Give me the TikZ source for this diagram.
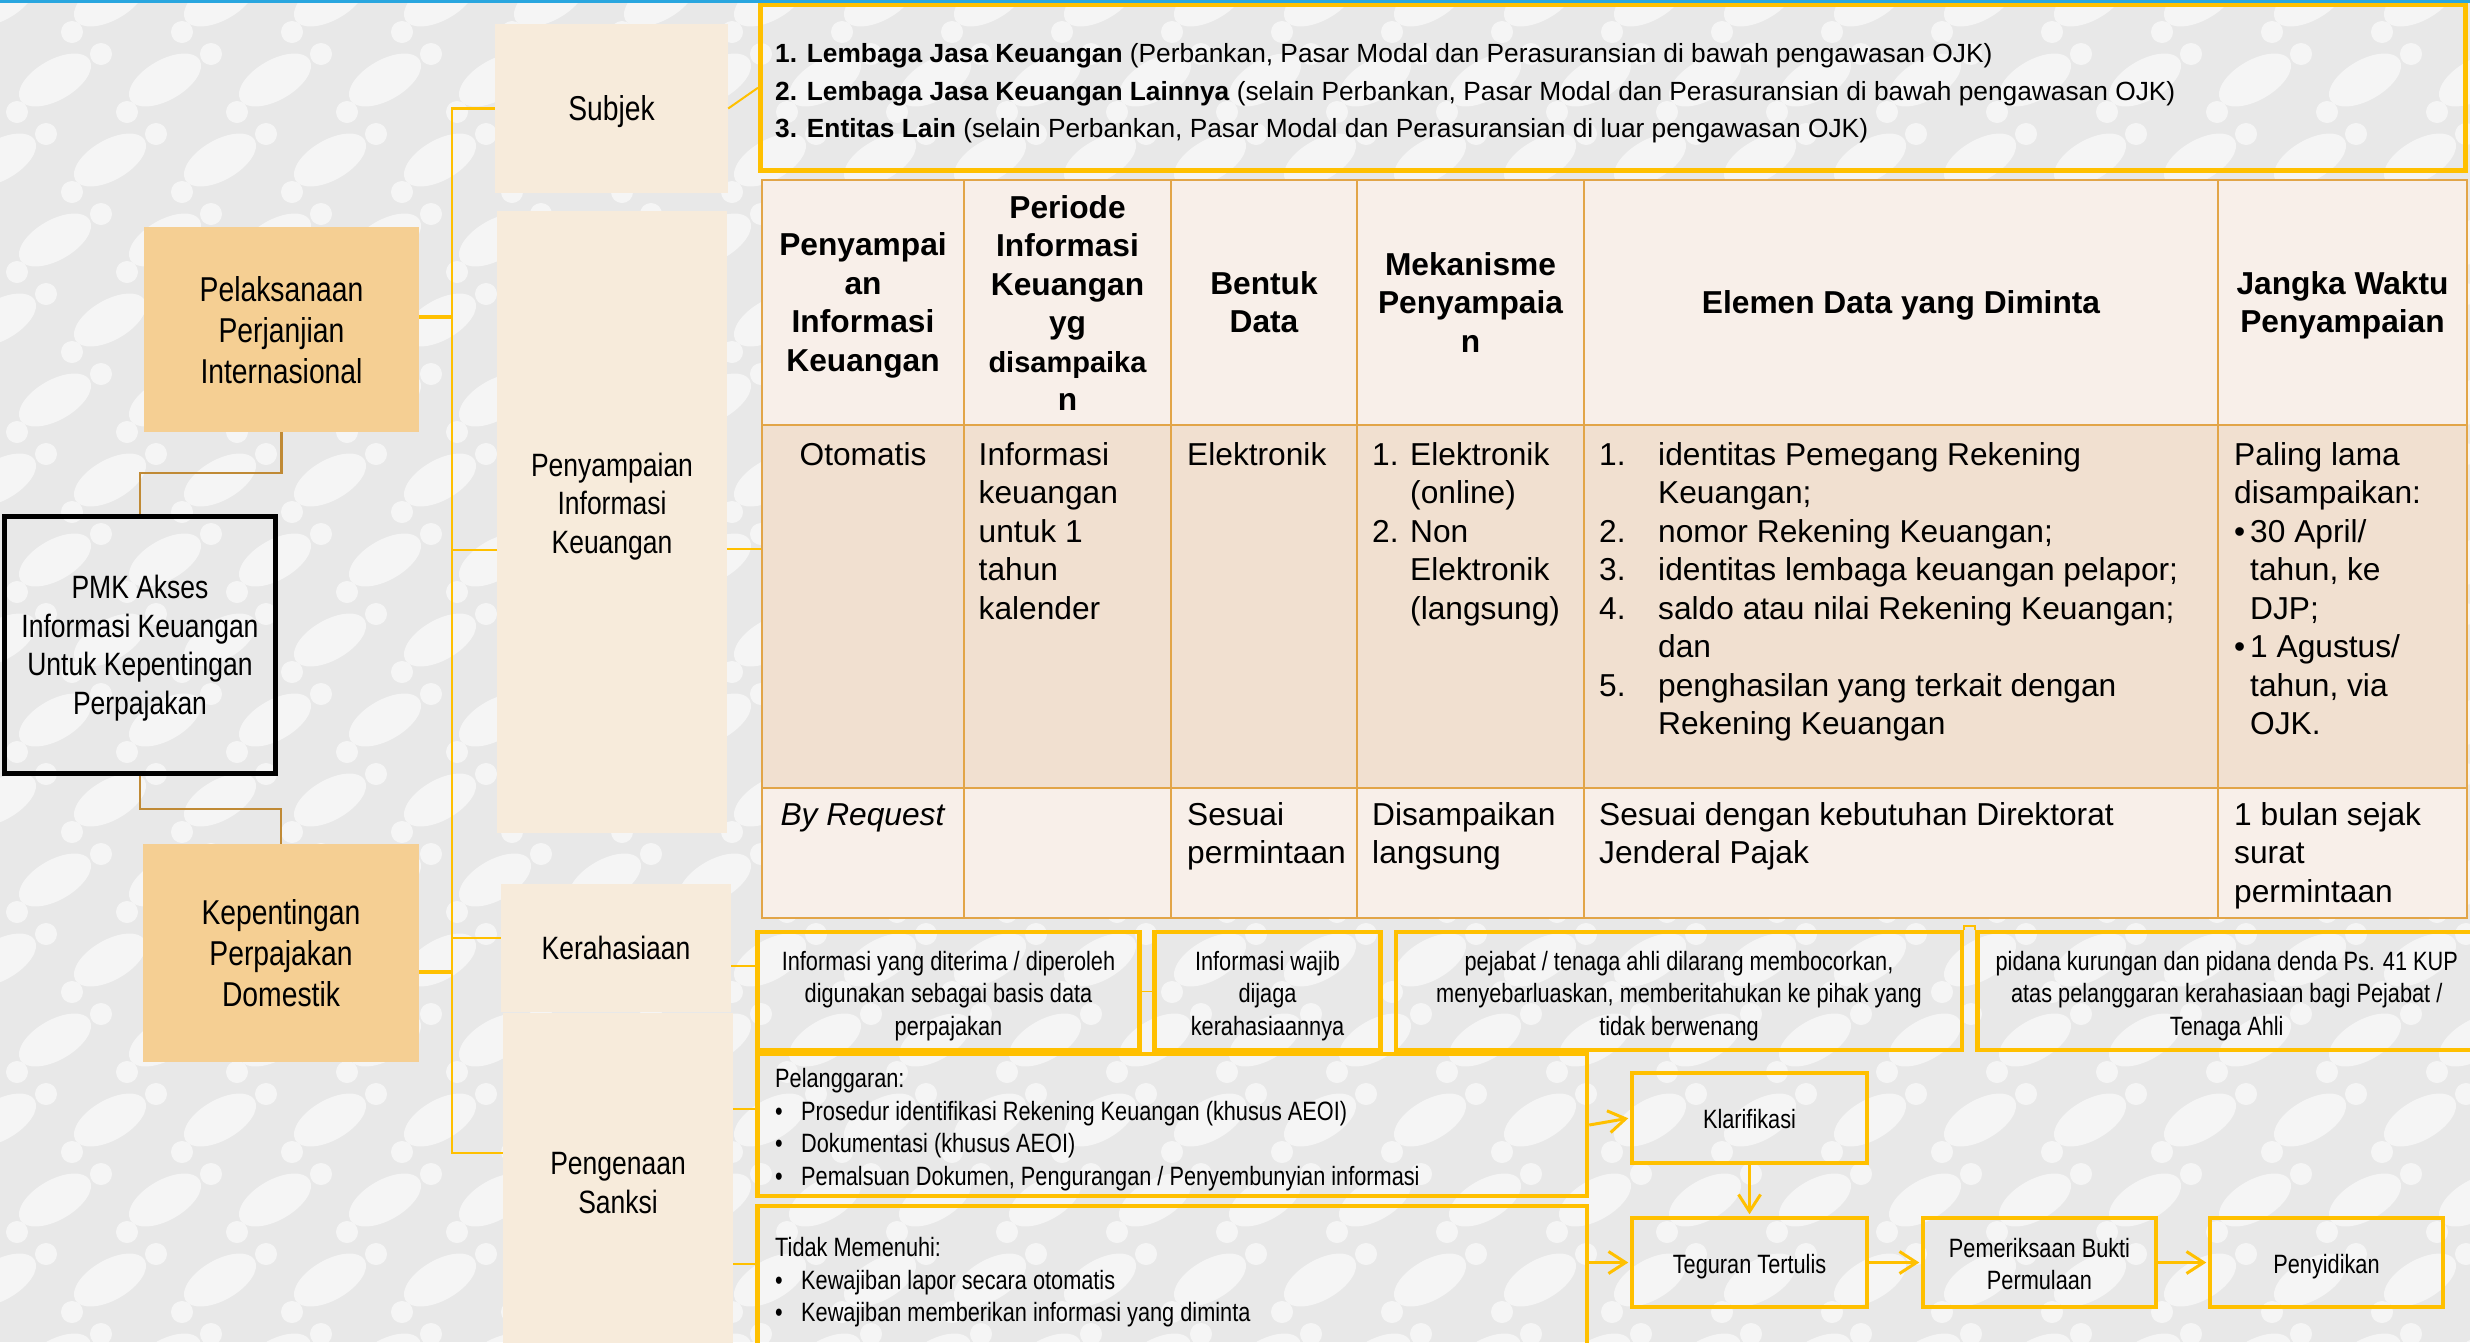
\documentclass[tikz,border=0pt]{standalone}
\usepackage{fontspec}
\setmainfont{Liberation Sans}
\newfontfamily\nrw{Liberation Sans}[FakeStretch=0.82]
\usetikzlibrary{arrows.meta,calc}

\definecolor{patbase}{HTML}{E8E8E8}
\definecolor{topbar}{HTML}{29A6DF}
\definecolor{yel}{HTML}{FFC000}
\definecolor{brn}{HTML}{C08A35}
\definecolor{goldfill}{HTML}{F5CF93}
\definecolor{beigefill}{HTML}{F7EBDB}
\definecolor{headfill}{HTML}{F8EFE9}
\definecolor{rowfill}{HTML}{F1E0D0}
\definecolor{tabc}{HTML}{E2A548}

% stacked lines with even baselines
\newcommand\tcell[2]{\begin{tabular}{@{}#1@{}}#2\end{tabular}}

\begin{document}
\begin{tikzpicture}[x=1pt,y=-1pt,
  goldbox/.style={rectangle, fill=goldfill, inner sep=0pt},
  beigebox/.style={rectangle, fill=beigefill, inner sep=0pt},
  framebox/.style={rectangle, draw=yel, line width=4.5pt, inner sep=0pt},
  rootbox/.style={rectangle, draw=black, line width=4.5pt, inner sep=0pt},
  bigtxt/.style={font=\nrw\fontsize{34.5}{41}\selectfont, inner sep=0pt},
  midtxt/.style={font=\nrw\fontsize{32.3}{38.5}\selectfont, inner sep=0pt},
  smalltxt/.style={font=\nrw\fontsize{26.5}{32.5}\selectfont, inner sep=0pt},
  listtxt/.style={font=\fontsize{26.3}{37.2}\selectfont, inner sep=0pt},
  headtxt/.style={font=\bfseries\fontsize{31.7}{38.5}\selectfont, inner sep=0pt},
  celltxt/.style={font=\fontsize{31.7}{38.5}\selectfont, inner sep=0pt, anchor=north west},
  tabline/.style={draw=tabc, line width=2.5pt},
  trunkline/.style={draw=yel, line width=2.5pt},
  branchline/.style={draw=yel, line width=3.5pt},
  linkline/.style={draw=yel, line width=2pt},
  rootline/.style={draw=brn, line width=2.5pt},
  flowarrow/.style={draw=yel, line width=3pt, -{Straight Barb[length=17pt,width=22pt]}, shorten >=1.5pt},
  motif/.style={fill=white, fill opacity=0.6},
]
\useasboundingbox (0,0) rectangle (2470,1342);

% ---------- faint batik-like backdrop ----------
\fill[patbase] (0,0) rectangle (2470,1342);
\foreach \r in {0,...,17} {
  \foreach \c in {0,...,23} {
    \pgfmathsetmacro\px{\c*110+mod(\r,2)*55}
    \pgfmathsetmacro\py{\r*80}
    \fill[motif, rotate around={30:(\px,\py)}] (\px,\py) ellipse (40 and 20);
    \fill[motif] (\px+46,\py-26) circle (11);
    \fill[motif] (\px-38,\py+32) circle (11);
  }
}
\fill[topbar] (0,0) rectangle (2470,3);

% ---------- root and its two bases ----------
\node[goldbox, minimum width=275pt, minimum height=205pt] (treaty) at (281.5,329.5) {};
\node[bigtxt] (treatylbl) at ($(treaty)+(0,4.5)$) {\tcell{c}{Pelaksanaan\\Perjanjian\\Internasional}};
\node[rootbox, minimum width=271pt, minimum height=257pt] (pmk) at (140,645) {};
\node[midtxt] (pmklbl) at ($(pmk)+(0,4)$) {\tcell{c}{PMK Akses\\Informasi Keuangan\\Untuk Kepentingan\\Perpajakan}};
\node[goldbox, minimum width=276pt, minimum height=218pt] (domestic) at (281,953) {};
\node[bigtxt] (domesticlbl) at ($(domestic)+(0,4.5)$) {\tcell{c}{Kepentingan\\Perpajakan\\Domestik}};

% ---------- topic column ----------
\node[beigebox, minimum width=233pt, minimum height=169pt] (subjek) at (611.5,108.5) {};
\node[bigtxt] (subjeklbl) at ($(subjek)+(0,3)$) {Subjek};
\node[beigebox, minimum width=230pt, minimum height=622pt] (penyampaian) at (612,522) {};
\node[midtxt] (penyampaianlbl) at (612,507) {\tcell{c}{Penyampaian\\Informasi\\Keuangan}};
\node[beigebox, minimum width=230pt, minimum height=128pt, midtxt] (rahasia) at (616,948) {Kerahasiaan};
\node[beigebox, minimum width=230pt, minimum height=347pt, midtxt] (sanksi) at (618,1186.5)
  {\tcell{c}{Pengenaan\\Sanksi}};

% ---------- subjects ----------
\node[framebox, minimum width=1705pt, minimum height=165.5pt] (subjlist) at (1612.75,87.75) {};
\node[listtxt, anchor=north west] (subjlisttxt) at (775,36.7) {\begin{tabular}{@{}p{31.7pt}@{}l@{}}
\textbf{1.}&\textbf{Lembaga Jasa Keuangan} (Perbankan, Pasar Modal dan Perasuransian di bawah pengawasan OJK)\\
\textbf{2.}&\textbf{Lembaga Jasa Keuangan Lainnya} (selain Perbankan, Pasar Modal dan Perasuransian di bawah pengawasan OJK)\\
\textbf{3.}&\textbf{Entitas Lain} (selain Perbankan, Pasar Modal dan Perasuransian di luar pengawasan OJK)
\end{tabular}};

% ---------- reporting table ----------
\fill[headfill] (762,180) rectangle (2467,425);
\fill[rowfill] (762,425) rectangle (2467,788);
\fill[headfill] (762,788) rectangle (2467,918);
\foreach \x in {964,1171,1357,1584,2218} \draw[tabline] (\x,180) -- (\x,918);
\foreach \y in {425,788} \draw[tabline] (762,\y) -- (2467,\y);
\node[draw=tabc, line width=2.5pt, minimum width=1705pt, minimum height=738pt, inner sep=0pt] (infotable) at (1614.5,549) {};

\node[headtxt] (h1) at (863,306) {\tcell{c}{Penyampai\\an\\Informasi\\Keuangan}};
\node[headtxt] (h2) at (1067.5,307) {\tcell{c}{Periode\\Informasi\\Keuangan\\yg\\{\fontsize{29}{38.5}\selectfont disampaika}\\n}};
\node[headtxt] (h3) at (1264,306) {\tcell{c}{Bentuk\\Data}};
\node[headtxt] (h4) at (1470.5,306) {\tcell{c}{Mekanisme\\Penyampaia\\n}};
\node[headtxt] (h5) at (1901,306) {\tcell{c}{Elemen Data yang Diminta}};
\node[headtxt] (h6) at (2342.5,306) {\tcell{c}{Jangka Waktu\\Penyampaian}};

\node[celltxt, anchor=north] (c11) at (863,438) {\tcell{c}{Otomatis}};
\node[celltxt] (c12) at (978.5,438) {\tcell{l}{Informasi\\keuangan\\untuk 1\\tahun\\kalender}};
\node[celltxt] (c13) at (1187,438) {\tcell{l}{Elektronik}};
\node[celltxt] (c14) at (1372,438) {\begin{tabular}{@{}p{38pt}@{}l@{}}
1.&Elektronik\\&(online)\\2.&Non\\&Elektronik\\&(langsung)\end{tabular}};
\node[celltxt] (c15) at (1599,438) {\begin{tabular}{@{}p{59pt}@{}l@{}}
1.&identitas Pemegang Rekening\\&Keuangan;\\
2.&nomor Rekening Keuangan;\\
3.&identitas lembaga keuangan pelapor;\\
4.&saldo atau nilai Rekening Keuangan;\\&dan\\
5.&penghasilan yang terkait dengan\\&Rekening Keuangan\end{tabular}};
\node[celltxt] (c16) at (2234,438) {\begin{tabular}{@{}p{16pt}@{}l@{}}
\multicolumn{2}{@{}l@{}}{Paling lama}\\
\multicolumn{2}{@{}l@{}}{disampaikan:}\\
\textbullet&30 April/\\&tahun, ke\\&DJP;\\
\textbullet&1 Agustus/\\&tahun, via\\&OJK.\end{tabular}};

\node[celltxt, anchor=north] (c21) at (863,798) {\tcell{c}{\textit{By Request}}};
\node[celltxt] (c23) at (1187,798) {\tcell{l}{Sesuai\\permintaan}};
\node[celltxt] (c24) at (1372,798) {\tcell{l}{Disampaikan\\langsung}};
\node[celltxt] (c25) at (1599,798) {\tcell{l}{Sesuai dengan kebutuhan Direktorat\\Jenderal Pajak}};
\node[celltxt] (c26) at (2234,798) {\tcell{l}{1 bulan sejak\\surat\\permintaan}};

% ---------- confidentiality ----------
\node[framebox, minimum width=382pt, minimum height=118pt] (use) at (948.5,991) {};
\node[smalltxt] (uselbl) at ($(use)+(0,5)$)
  {\tcell{c}{Informasi yang diterima / diperoleh\\digunakan sebagai basis data\\perpajakan}};
\node[framebox, minimum width=226pt, minimum height=118pt] (guard) at (1267.5,991) {};
\node[smalltxt] (guardlbl) at ($(guard)+(0,5)$) {\tcell{c}{Informasi wajib\\dijaga\\kerahasiaannya}};
\node[framebox, minimum width=566pt, minimum height=118pt] (leak) at (1679,991) {};
\node[smalltxt] (leaklbl) at ($(leak)+(0,5)$)
  {\tcell{c}{pejabat / tenaga ahli dilarang membocorkan,\\menyebarluaskan, memberitahukan ke pihak yang\\tidak berwenang}};
\node[framebox, minimum width=498.5pt, minimum height=118pt] (penalty) at (2226.75,991) {};
\node[smalltxt] (penaltylbl) at ($(penalty)+(0,5)$)
  {\tcell{c}{pidana kurungan dan pidana denda Ps. 41 KUP\\atas pelanggaran kerahasiaan bagi Pejabat /\\Tenaga Ahli}};

% ---------- sanctions ----------
\node[framebox, minimum width=829.5pt, minimum height=142pt] (violation) at (1172.25,1125) {};
\node[smalltxt, anchor=north west] (violationtxt) at (775,1064.8) {\begin{tabular}{@{}p{26pt}@{}l@{}}
\multicolumn{2}{@{}l@{}}{Pelanggaran:}\\
\textbullet&Prosedur identifikasi Rekening Keuangan (khusus AEOI)\\
\textbullet&Dokumentasi (khusus AEOI)\\
\textbullet&Pemalsuan Dokumen, Pengurangan / Penyembunyian informasi\end{tabular}};
\node[framebox, minimum width=829.5pt, minimum height=156pt] (noncomply) at (1172.25,1284) {};
\node[smalltxt, anchor=north west] (noncomplytxt) at (775,1233.8) {\begin{tabular}{@{}p{26pt}@{}l@{}}
\multicolumn{2}{@{}l@{}}{Tidak Memenuhi:}\\
\textbullet&Kewajiban lapor secara otomatis\\
\textbullet&Kewajiban memberikan informasi yang diminta\end{tabular}};

\node[framebox, minimum width=235pt, minimum height=90pt] (klar) at (1749.5,1118) {};
\node[smalltxt] (klarlbl) at ($(klar)+(0,1.5)$) {Klarifikasi};
\node[framebox, minimum width=235pt, minimum height=89pt] (teguran) at (1749.5,1262.5) {};
\node[smalltxt] (teguranlbl) at ($(teguran)+(0,4.5)$) {Teguran Tertulis};
\node[framebox, minimum width=233pt, minimum height=89pt] (bukper) at (2039.5,1262.5) {};
\node[smalltxt] (bukperlbl) at ($(bukper)+(0,4.5)$) {\tcell{c}{Pemeriksaan Bukti\\Permulaan}};
\node[framebox, minimum width=233pt, minimum height=89pt] (sidik) at (2326.5,1262.5) {};
\node[smalltxt] (sidiklbl) at ($(sidik)+(0,4.5)$) {Penyidikan};

% ---------- trunk of the tree ----------
\coordinate (trunktop) at (452,108.5);
\coordinate (trunkbot) at (452,1153);
\draw[trunkline] (subjek.west) -- (trunktop) -- (trunkbot) -- (trunkbot -| sanksi.west);
\coordinate (jtreaty) at (452,317);
\draw[branchline] (treaty.east |- jtreaty) -- (jtreaty);
\coordinate (jpeny) at (452,550);
\draw[trunkline] (jpeny) -- (jpeny -| penyampaian.west);
\coordinate (jrah) at (452,938);
\draw[trunkline] (jrah) -- (jrah -| rahasia.west);
\coordinate (jdom) at (452,972);
\draw[branchline] (domestic.east |- jdom) -- (jdom);

% ---------- root links ----------
\coordinate (elbowa) at (0,473);
\draw[rootline] (treaty.south) -- (treaty.south |- elbowa) -- (pmk.north |- elbowa) -- (pmk.north);
\coordinate (elbowb) at (0,809);
\draw[rootline] (pmk.south) -- (pmk.south |- elbowb) -- (domestic.north |- elbowb) -- (domestic.north);

% ---------- topic links ----------
\draw[linkline] (subjek.east) -- (subjlist.west);
\draw[linkline] (penyampaian.east |- infotable.west) -- (infotable.west);
\coordinate (juse) at (757.5,966);
\draw[linkline] (juse -| rahasia.east) -- (juse);
\coordinate (jviol) at (757.5,1109);
\draw[linkline] (jviol -| sanksi.east) -- (jviol);
\coordinate (jnon) at (757.5,1264);
\draw[linkline] (jnon -| sanksi.east) -- (jnon);
\draw[draw=yel, line width=1pt] (use.east) -- (guard.west);
\draw[draw=yel, line width=2pt] (leak.north east) -- ++(0,-4) -| (penalty.north west);

% ---------- sanction flow ----------
\draw[flowarrow] (violation.east) -- (klar.west);
\draw[flowarrow] (noncomply.east |- teguran.west) -- (teguran.west);
\draw[flowarrow] (klar.south) -- (teguran.north);
\draw[flowarrow] (teguran.east) -- (bukper.west);
\draw[flowarrow] (bukper.east) -- (sidik.west);
\end{tikzpicture}
\end{document}
